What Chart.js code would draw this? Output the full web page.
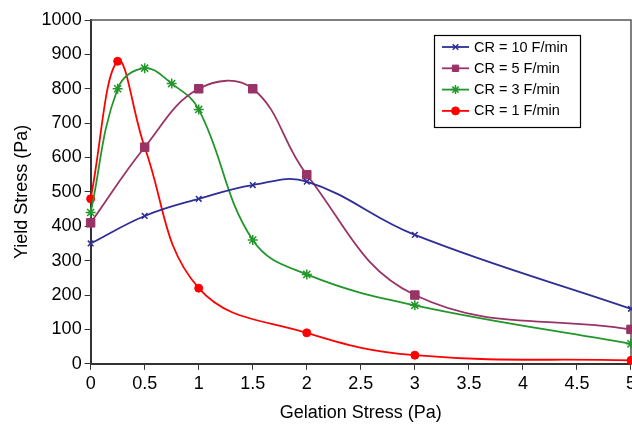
<!DOCTYPE html>
<html><head><meta charset="utf-8">
<script src="https://cdn.jsdelivr.net/npm/chart.js@4.4.1/dist/chart.umd.min.js"></script>
<style>html,body{margin:0;padding:0;overflow:hidden;background:#fff}#wrap{width:639px;height:426px}</style>
</head><body><div id="wrap"><canvas id="c" width="639" height="426"></canvas></div>
<script>
const seriesLabels = ['CR = 10 F/min','CR = 5 F/min','CR = 3 F/min','CR = 1 F/min'];
const cr10X = [0,0.5,1,1.5,2,3,5];
const cr10Y = [350,430,480,520,530,375,160];
const cr5X = [0,0.5,1,1.5,2,3,5];
const cr5Y = [410,630,800,800,550,200,100];
const cr3X = [0,0.25,0.5,0.75,1,1.5,2,3,5];
const cr3Y = [440,800,860,815,740,360,260,170,58];
const cr1X = [0,0.25,0.5,1,2,3,5];
const cr1Y = [480,880,630,220,90,25,10];
const xTicks = [0,0.5,1,1.5,2,2.5,3,3.5,4,4.5,5];
const yTicks = [0,100,200,300,400,500,600,700,800,900,1000];

const colors = ['#2e2e96','#993366','#22962a','#ff0000'];
const styles = ['crossRot','rect','star','circle'];
const radii = [4,6,5,4];
const xs = [cr10X,cr5X,cr3X,cr1X], ys=[cr10Y,cr5Y,cr3Y,cr1Y];
const FONT = '"Liberation Sans", Arial, sans-serif';

const datasets = seriesLabels.map((l,i)=>({
  label:l,
  data: xs[i].map((x,j)=>({x:x,y:ys[i][j]})),
  borderColor:colors[i], backgroundColor:colors[i],
  pointStyle:styles[i], pointRadius:radii[i], pointBorderWidth: (i===0||i===2)?1.5:1,
  borderWidth:1.8, tension:0.4, fill:false, clip:false
}));

new Chart(document.getElementById('c'),{
  type:'line',
  data:{datasets},
  options:{
    responsive:false, animation:false,
    layout:{padding:{top:20,right:0,left:11,bottom:2}},
    plugins:{legend:{display:false},tooltip:{enabled:false}},
    scales:{
      x:{type:'linear',min:0,max:5,
        afterBuildTicks(s){s.ticks=xTicks.map(v=>({value:v}));},
        ticks:{color:'#000',font:{size:18,family:FONT},padding:3,maxRotation:0,autoSkip:false,callback:v=>String(v)},
        grid:{drawOnChartArea:false,drawTicks:true,tickLength:6,color:'#333'},
        border:{color:'#333',width:2},
        title:{display:true,text:'Gelation Stress (Pa)',color:'#000',font:{size:18,family:FONT},padding:{top:5,bottom:0}}
      },
      y:{type:'linear',min:0,max:1000,
        afterBuildTicks(s){s.ticks=yTicks.map(v=>({value:v}));},
        ticks:{color:'#000',font:{size:18,family:FONT},padding:3,autoSkip:false,callback:v=>String(v)},
        grid:{drawOnChartArea:false,drawTicks:true,tickLength:6,color:'#333'},
        border:{color:'#333',width:2},
        title:{display:true,text:'Yield Stress (Pa)',color:'#000',font:{size:18,family:FONT},padding:{top:0,bottom:6}}
      }
    }
  },
  plugins:[{
    id:'plotBorder',
    beforeDatasetsDraw(chart){
      const a=chart.chartArea, ctx=chart.ctx;
      ctx.save();
      ctx.strokeStyle='#555';ctx.lineWidth=1.5;
      ctx.beginPath();
      ctx.moveTo(a.left,a.top);ctx.lineTo(a.right,a.top);ctx.lineTo(a.right,a.bottom);
      ctx.stroke();
      ctx.restore();
    }
  },{
    id:'legendBox',
    afterDraw(chart){
      const ctx=chart.ctx;
      const x0=434,y0=35,w=146,h=92;
      ctx.save();
      ctx.strokeStyle='#000';ctx.lineWidth=1.2;
      ctx.strokeRect(x0+0.5,y0+0.5,w,h);
      ctx.font='14.5px '+FONT;
      ctx.textBaseline='middle';
      chart.data.datasets.forEach((ds,i)=>{
        const y=y0+12+i*21.3;
        ctx.strokeStyle=ds.borderColor;ctx.lineWidth=1.8;
        ctx.beginPath();ctx.moveTo(442,y);ctx.lineTo(469,y);ctx.stroke();
        ctx.fillStyle=ds.backgroundColor;ctx.strokeStyle=ds.borderColor;ctx.lineWidth=ds.pointBorderWidth;
        Chart.helpers.drawPoint(ctx,{pointStyle:ds.pointStyle,radius:Math.min(ds.pointRadius,4.5),borderWidth:ds.pointBorderWidth,rotation:0},455.5,y);
        ctx.fillStyle='#000';
        ctx.fillText(ds.label,474,y+0.5);
      });
      ctx.restore();
    }
  }]
});
</script></body></html>
